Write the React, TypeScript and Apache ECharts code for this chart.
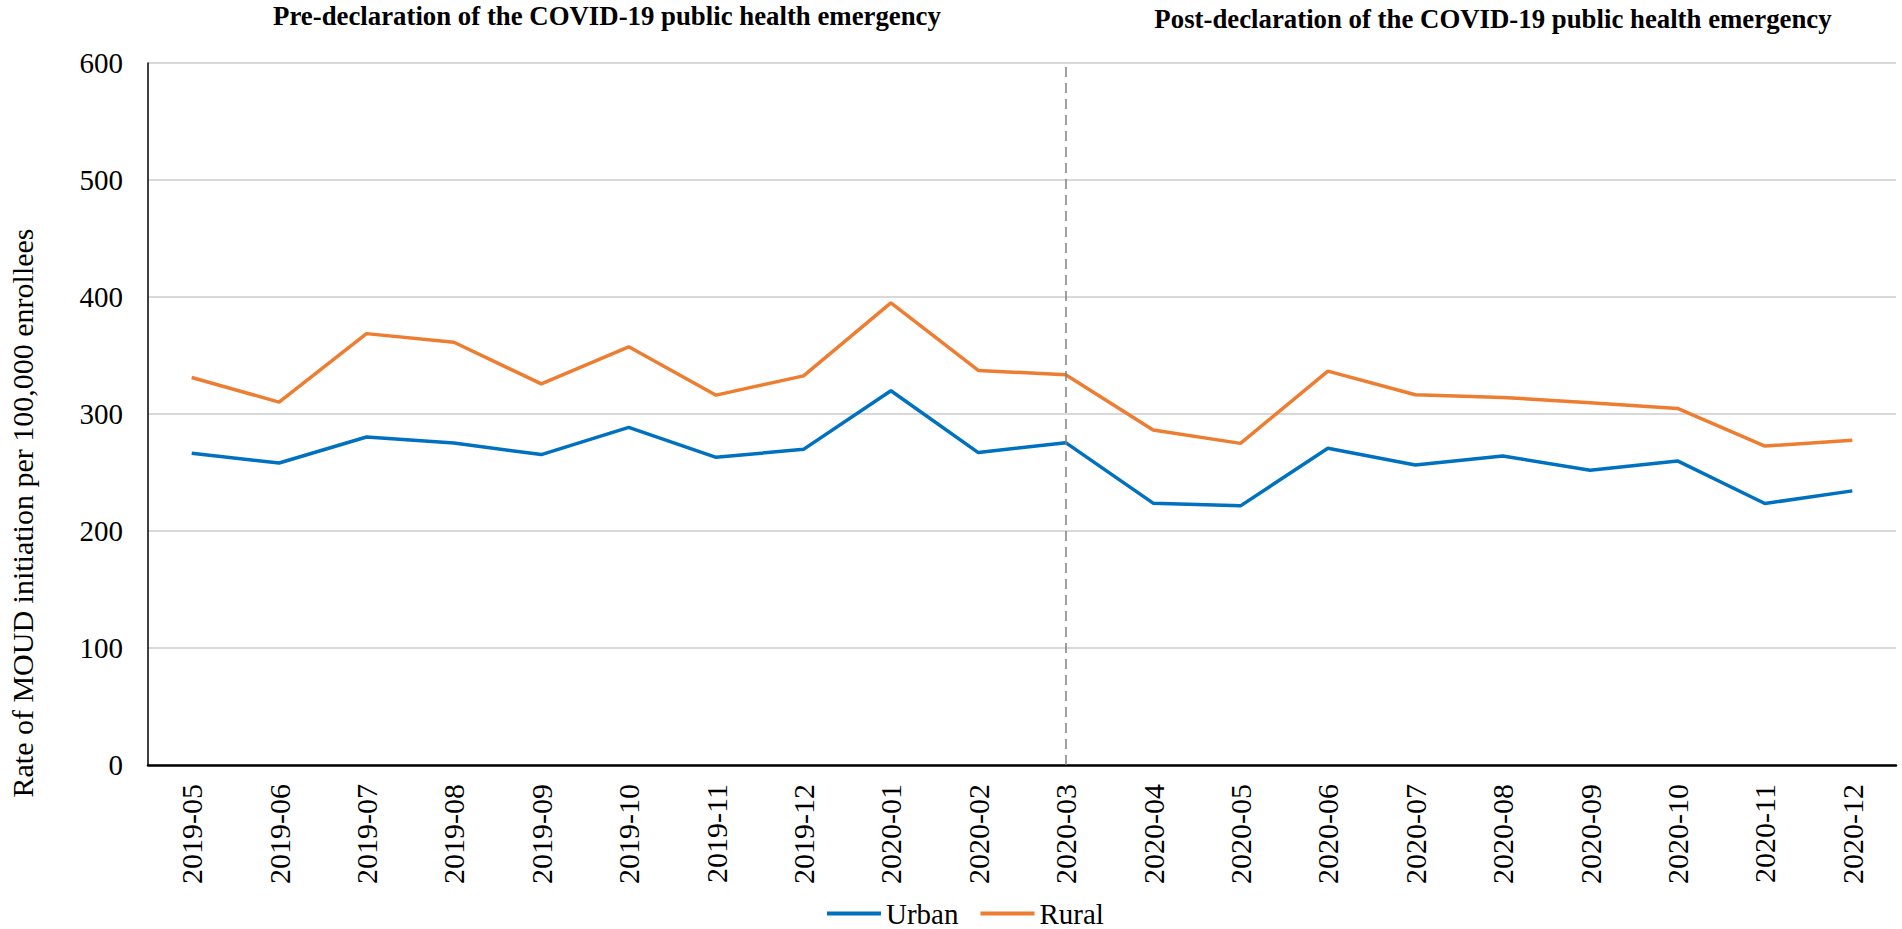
import React, { useEffect, useRef } from "react";
import * as echarts from "echarts";

// Monthly periods on the category axis
const months = [
  "2019-05", "2019-06", "2019-07", "2019-08", "2019-09", "2019-10", "2019-11",
  "2019-12", "2020-01", "2020-02", "2020-03", "2020-04", "2020-05", "2020-06",
  "2020-07", "2020-08", "2020-09", "2020-10", "2020-11", "2020-12",
];

// Rate of MOUD initiation per 100,000 enrollees
const urban = [
  266.4, 258.1, 280.3, 275.2, 265.3, 288.6, 263.0, 269.8, 319.9, 267.0,
  275.5, 223.8, 221.5, 270.7, 256.4, 264.1, 251.9, 259.9, 223.5, 234.3,
];
const rural = [
  331.2, 310.2, 368.7, 361.3, 325.8, 357.4, 316.1, 332.6, 394.9, 337.2,
  333.5, 286.3, 274.9, 336.6, 316.4, 314.2, 309.6, 304.8, 272.6, 277.5,
];

// Month of the public health emergency declaration
const declarationMonth = "2020-03";

const periodTitles = [
  "Pre-declaration of the COVID-19 public health emergency",
  "Post-declaration of the COVID-19 public health emergency",
];

const yAxisTitle = "Rate of MOUD initiation per 100,000 enrollees";

const yTicks = { min: 0, max: 600, interval: 100 };

const FONT = "'Liberation Serif', 'Times New Roman', serif";

export default function App() {
  const ref = useRef<HTMLDivElement | null>(null);

  useEffect(() => {
    document.body.style.margin = "0";
    if (!ref.current) return;
    const chart = echarts.init(ref.current, undefined, { renderer: "svg" });

    chart.setOption({
      animation: false,
      backgroundColor: "#ffffff",
      textStyle: { fontFamily: FONT, color: "#000" },
      title: [
        {
          text: periodTitles[0],
          left: 607,
          top: 2,
          textAlign: "center",
          padding: 0,
          textStyle: { fontFamily: FONT, fontSize: 26.8, fontWeight: "bold", color: "#000" },
        },
        {
          text: periodTitles[1],
          left: 1493,
          top: 5,
          textAlign: "center",
          padding: 0,
          textStyle: { fontFamily: FONT, fontSize: 26.8, fontWeight: "bold", color: "#000" },
        },
      ],
      graphic: [
        {
          type: "text",
          x: 22,
          y: 513,
          rotation: Math.PI / 2,
          style: {
            text: yAxisTitle,
            font: `30px ${FONT}`,
            fill: "#000",
            align: "center",
            verticalAlign: "middle",
          },
        },
      ],
      grid: {
        left: 148,
        right: 6,
        top: 63,
        bottom: 164,
        containLabel: false,
        outerBoundsMode: "none",
      },
      legend: {
        data: ["Urban", "Rural"],
        left: 827,
        top: 899,
        padding: 0,
        icon: "rect",
        itemWidth: 54,
        itemHeight: 4,
        itemGap: 22,
        textStyle: { fontFamily: FONT, fontSize: 29, lineHeight: 28, color: "#000" },
      },
      xAxis: {
        type: "category",
        data: months,
        boundaryGap: true,
        axisLine: { show: true, lineStyle: { color: "#000", width: 2.5 } },
        axisTick: { show: false },
        axisLabel: {
          rotate: 90,
          margin: 19,
          fontFamily: FONT,
          fontSize: 30,
          color: "#000",
          interval: 0,
        },
        splitLine: { show: false },
      },
      yAxis: {
        type: "value",
        min: yTicks.min,
        max: yTicks.max,
        interval: yTicks.interval,
        axisLine: { show: true, lineStyle: { color: "#000", width: 1.5 } },
        axisTick: { show: false },
        axisLabel: { margin: 25, fontFamily: FONT, fontSize: 29, color: "#000" },
        splitLine: { show: true, lineStyle: { color: "#d9d9d9", width: 2 } },
      },
      series: [
        {
          name: "Urban",
          type: "line",
          data: urban,
          symbol: "none",
          lineStyle: { color: "#0070C0", width: 3.5 },
          itemStyle: { color: "#0070C0" },
          markLine: {
            silent: true,
            symbol: "none",
            label: { show: false },
            lineStyle: { color: "#808080", type: [10, 6], width: 1.5 },
            data: [{ xAxis: declarationMonth }],
          },
          z: 3,
        },
        {
          name: "Rural",
          type: "line",
          data: rural,
          symbol: "none",
          lineStyle: { color: "#ED7D31", width: 3.5 },
          itemStyle: { color: "#ED7D31" },
          z: 3,
        },
      ],
    });

    return () => chart.dispose();
  }, []);

  return <div ref={ref} style={{ width: 1902, height: 929 }} />;
}
